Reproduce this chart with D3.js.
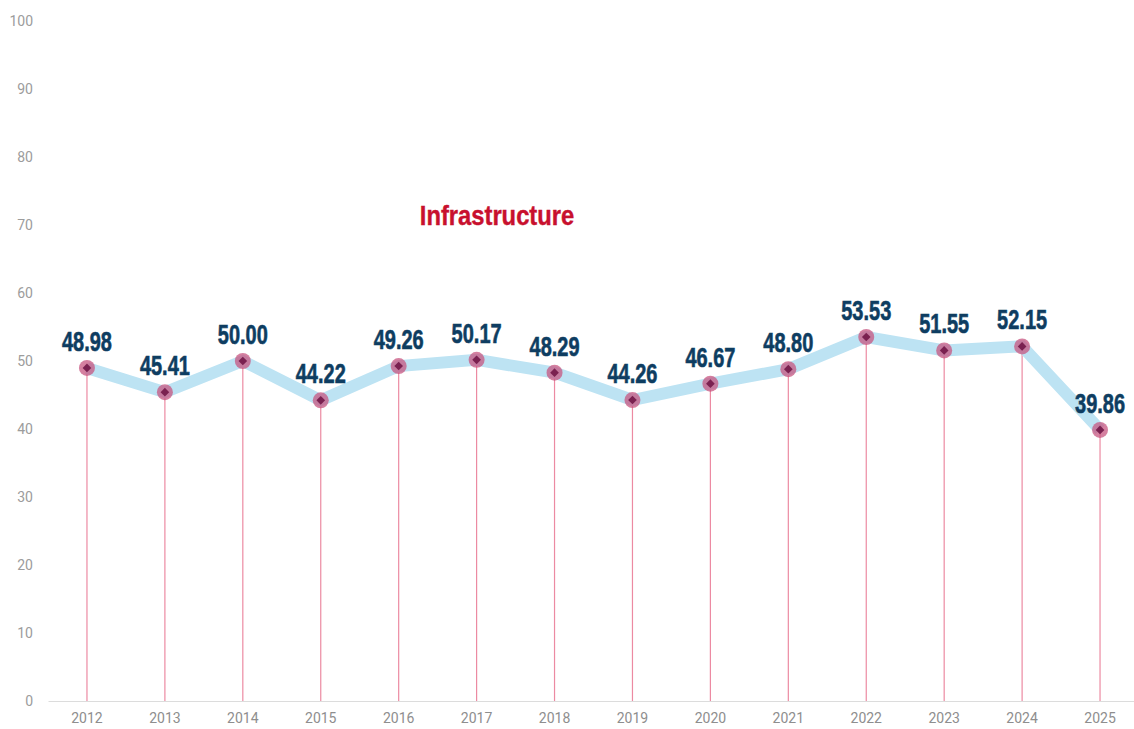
<!DOCTYPE html>
<html>
<head>
<meta charset="utf-8">
<script src="https://cdn.jsdelivr.net/npm/d3@7"></script>
<style>
  body { margin: 0; background: #fff; }
  .tick text { font-family: Roboto, "Liberation Sans", sans-serif; }
</style>
</head>
<body>
<div id="chart"></div>
<script>
// chart values
var years = ["2012","2013","2014","2015","2016","2017","2018","2019","2020","2021","2022","2023","2024","2025"];
var scores = [48.98, 45.41, 50.00, 44.22, 49.26, 50.17, 48.29, 44.26, 46.67, 48.80, 53.53, 51.55, 52.15, 39.86];
var yTicks = [0, 10, 20, 30, 40, 50, 60, 70, 80, 90, 100];
var title = "Infrastructure";

var width = 1134, height = 729;

var svg = d3.select("#chart").append("svg")
    .attr("width", width)
    .attr("height", height);

var x = d3.scaleBand().domain(years).range([48, 1139]);
var y = d3.scaleLinear().domain([0, 100]).range([701, 21]);

var xc = function(d, i) { return x(years[i]) + x.bandwidth() / 2; };

// y axis labels only
var yAxis = svg.append("g")
    .attr("transform", "translate(33,0)")
    .call(d3.axisLeft(y).tickValues(yTicks).tickSize(0).tickPadding(0));
yAxis.select(".domain").remove();
yAxis.selectAll("text")
    .attr("fill", "#9c9c9c")
    .style("font-size", "14px");

// x axis
var xAxis = svg.append("g")
    .attr("transform", "translate(0,701)")
    .call(d3.axisBottom(x).tickSize(0).tickPadding(12));
xAxis.select(".domain").attr("stroke", "#dcdcdc");
xAxis.selectAll("text")
    .attr("fill", "#8e8e8e")
    .style("font-size", "14px");

// drop lines
svg.selectAll(".drop")
    .data(scores)
    .enter()
    .append("line")
    .attr("class", "drop")
    .attr("x1", xc).attr("x2", xc)
    .attr("y1", function(d) { return y(d); })
    .attr("y2", y(0))
    .attr("stroke", "#ec8aa2")
    .attr("stroke-width", 1.2);

// the thick line
var line = d3.line()
    .x(xc)
    .y(function(d) { return y(d); });

svg.append("path")
    .datum(scores)
    .attr("d", line)
    .attr("fill", "none")
    .attr("stroke", "#bde3f3")
    .attr("stroke-width", 12)
    .attr("stroke-linejoin", "miter");

// markers
svg.selectAll(".dot")
    .data(scores)
    .enter()
    .append("circle")
    .attr("class", "dot")
    .attr("cx", xc)
    .attr("cy", function(d) { return y(d); })
    .attr("r", 8)
    .attr("fill", "#c75680")
    .attr("opacity", 0.75);

svg.selectAll(".diamond")
    .data(scores)
    .enter()
    .append("path")
    .attr("class", "diamond")
    .attr("d", d3.symbol().type(d3.symbolDiamond2).size(48))
    .attr("transform", function(d, i) { return `translate(${xc(d, i)},${y(d)})`; })
    .attr("fill", "#7a2150");

// value labels
svg.selectAll(".val")
    .data(scores)
    .enter()
    .append("text")
    .attr("class", "val")
    .attr("transform", function(d, i) { return `translate(${xc(d, i)},${y(d) - 17}) scale(0.74,1)`; })
    .attr("text-anchor", "middle")
    .style("font-family", "'Liberation Sans', Arial, sans-serif")
    .style("font-weight", "bold")
    .style("font-size", "27px")
    .attr("fill", "#0e3d61")
    .attr("stroke", "#0e3d61")
    .attr("stroke-width", 0.6)
    .text(function(d) { return d.toFixed(2); });

// title
svg.append("text")
    .attr("transform", "translate(497,225) scale(0.88,1)")
    .attr("text-anchor", "middle")
    .style("font-family", "'Liberation Sans', Arial, sans-serif")
    .style("font-weight", "bold")
    .style("font-size", "27px")
    .attr("fill", "#c8102e")
    .attr("stroke", "#c8102e")
    .attr("stroke-width", 0.4)
    .text(title);
</script>
</body>
</html>
